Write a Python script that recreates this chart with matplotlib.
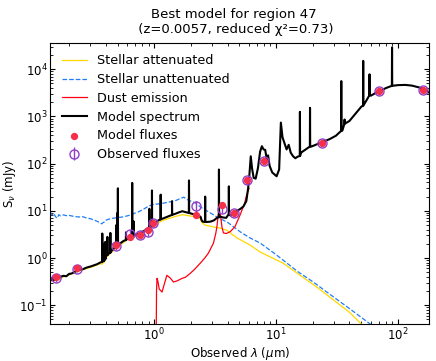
import matplotlib
matplotlib.use('Agg')
import matplotlib.pyplot as plt

# model spectrum continuum (um, mJy)
spec_wl = [0.14, 0.145, 0.15, 0.155, 0.16, 0.17, 0.18, 0.19, 0.20, 0.21, 0.22, 0.24,
           0.26, 0.28, 0.30, 0.32, 0.34, 0.36, 0.37, 0.39, 0.40, 0.41, 0.43, 0.45,
           0.48, 0.52, 0.56, 0.60, 0.65, 0.70, 0.75, 0.80, 0.85, 0.90, 0.95, 1.0,
           1.05, 1.1, 1.2, 1.3, 1.4, 1.5, 1.6, 1.7, 1.8, 1.9, 2.0, 2.1, 2.2, 2.3,
           2.4, 2.45, 2.5, 2.7, 2.9, 3.1, 3.25, 3.5, 3.7, 3.9, 4.2, 4.5, 4.8, 5.1,
           5.4, 5.7, 5.9, 6.05, 6.2, 6.35, 6.55, 6.8, 7.1, 7.4, 7.65, 7.9, 8.15,
           8.4, 8.6, 8.85, 9.3, 9.8, 10.1, 10.6, 10.95, 11.3, 11.8, 12.2, 12.7,
           13.2, 13.8, 14.4, 15.0, 16.0, 17.5, 19.5, 21.5, 24, 27.5, 31, 33.5, 35,
           40, 45, 50, 55, 60, 65, 71, 80, 90, 100, 115, 130, 150, 165, 180]
spec_fl = [0.33, 0.36, 0.34, 0.37, 0.35, 0.40, 0.42, 0.41, 0.46, 0.47, 0.50, 0.56,
           0.58, 0.63, 0.66, 0.70, 0.74, 0.80, 0.82, 0.88, 1.1, 1.15, 1.3, 1.45,
           1.7, 2.0, 2.3, 2.6, 2.9, 3.1, 3.3, 3.6, 3.9, 4.3, 4.8, 5.4,
           6.0, 6.4, 7.0, 7.6, 8.2, 8.7, 9.3, 9.8, 9.4, 9.0, 8.8, 8.5, 8.2, 7.8,
           7.5, 6.3, 5.9, 5.8, 5.9, 6.3, 7.0, 7.5, 7.2, 7.1, 8.0, 9.0, 10.0, 11.0,
           12.4, 16, 30, 60, 143, 80, 50, 48, 80, 180, 234, 200, 195,
           120, 150, 90, 65, 58, 54, 75, 740, 360, 260, 200, 250,
           170, 143, 130, 140, 170, 200, 230, 255, 285, 330, 390, 470, 500,
           800, 1150, 1600, 2150, 2750, 3100, 3450, 4000, 4450, 4600, 4650, 4500, 4100, 3700, 3200]

# narrow emission lines: position, continuum below, peak
line_wl = [0.375, 0.385, 0.397, 0.413, 0.437, 0.489, 0.4987, 0.5036, 0.587, 0.660,
           0.677, 0.912, 0.959, 1.13, 1.40, 1.93, 2.62, 3.40, 4.10,
           15.7, 19.0, 34.3, 36.5, 51.9, 58.5, 89.5]
line_base = [0.83, 0.87, 0.95, 1.15, 1.3, 1.75, 1.8, 1.85, 2.4, 2.85,
             2.95, 4.3, 4.7, 6.6, 8.2, 9.0, 5.8, 7.4, 8.5,
             145, 230, 490, 700, 1700, 2800, 4450]
line_peak = [3.3, 2.0, 2.2, 2.8, 3.4, 5.0, 9.0, 30, 3.5, 39,
             6.0, 11, 27, 22, 16, 44, 20, 75, 33,
             1250, 1520, 5600, 860, 15000, 7800, 29000]

# stellar attenuated
att_wl = [0.14, 0.16, 0.18, 0.2, 0.24, 0.28, 0.32, 0.36, 0.37, 0.39, 0.40, 0.45,
          0.5, 0.6, 0.7, 0.8, 0.9, 1.0, 1.1, 1.2, 1.35, 1.5, 1.7, 1.9, 2.1,
          2.38, 2.45, 2.6, 3.0, 3.5, 4.0, 4.4, 4.8, 5.0, 6.1, 7.4, 11.4, 21.7,
          30, 40, 51.6, 60]
att_fl = [0.32, 0.34, 0.40, 0.44, 0.53, 0.60, 0.67, 0.76, 0.74, 0.82, 1.0, 1.35,
          1.7, 2.45, 2.9, 3.4, 4.0, 4.9, 5.7, 6.4, 7.0, 7.6, 8.3, 7.9, 7.6,
          7.0, 5.8, 5.0, 4.6, 4.3, 3.8, 3.1, 2.66, 2.5, 1.89, 1.34, 0.78, 0.24,
          0.126, 0.071, 0.037, 0.027]

# stellar unattenuated
unatt_wl = [0.14, 0.145, 0.15, 0.155, 0.16, 0.165, 0.17, 0.18, 0.19, 0.2, 0.22,
            0.24, 0.26, 0.28, 0.30, 0.32, 0.34, 0.36, 0.37, 0.38, 0.39, 0.40, 0.42,
            0.45, 0.5, 0.55, 0.6, 0.65, 0.7, 0.75, 0.8, 0.85, 0.9, 0.95, 1.0, 1.1,
            1.2, 1.35, 1.5, 1.65, 1.75, 1.85, 2.0, 2.17, 2.4, 2.62, 3.28, 4.04,
            5.07, 6.1, 7.4, 10, 15, 20, 30, 40, 57, 65]
unatt_fl = [9.5, 8.2, 8.8, 7.5, 7.0, 8.3, 7.8, 8.2, 7.9, 8.0, 7.6,
            7.4, 7.5, 7.0, 6.8, 6.4, 6.0, 5.6, 5.3, 5.6, 5.8, 6.3, 6.6,
            6.9, 7.2, 7.4, 7.8, 8.3, 9.0, 9.6, 10.5, 11.5, 12.5, 13.3, 13.8, 14.0,
            14.6, 15.5, 16.5, 18.3, 19.5, 17.5, 16.0, 14.8, 12.0, 10.5, 7.4, 5.6,
            3.6, 2.67, 2.08, 1.18, 0.52, 0.315, 0.146, 0.085, 0.043, 0.033]

# dust emission
dust_wl = [1.03, 1.045, 1.055, 1.07, 1.1, 1.16, 1.22, 1.27, 1.35, 1.44, 1.55, 1.69,
           1.8, 1.97, 2.15, 2.38, 2.6, 2.78, 3.06, 3.2, 3.27, 3.35, 3.42, 3.5, 3.6,
           3.7, 3.9, 4.2, 4.6, 5.07, 5.5, 5.75, 6.0]
dust_fl = [0.001, 0.2, 0.37, 0.33, 0.22, 0.19, 0.3, 0.43, 0.38, 0.31, 0.33, 0.37,
           0.39, 0.47, 0.58, 0.77, 1.0, 1.26, 2.05, 3.3, 4.6, 8.0, 10.0, 8.0, 4.5,
           3.4, 3.3, 3.6, 4.6, 8.2, 14, 22, 30]

# photometry
filt_wl = [0.155, 0.232, 0.49, 0.63, 0.77, 0.89, 0.98, 2.2, 3.6, 4.5, 5.8, 8.0,
           24, 70, 160]
mod_flux = [0.39, 0.60, 1.85, 2.75, 3.1, 3.9, 5.5, 8.2, 13.4, 9.0, 44, 115,
            280, 3400, 3700]
obs_flux = [0.37, 0.59, 1.8, 3.3, 3.1, 3.5, 5.4, 12.6, 11.0, 9.0, 44, 115,
            280, 3400, 3700]
obs_err = [0.02, 0.03, 0.1, 0.2, 0.15, 0.2, 0.3, 1.2, 0.6, 0.5, 2.5, 6,
           15, 180, 200]

# put the emission lines into the continuum
pts = list(zip(spec_wl, spec_fl))
for w, b, p in zip(line_wl, line_base, line_peak):
    pts += [(w * 0.997, b), (w, p), (w * 1.003, b)]
pts.sort()
model_wl = [p[0] for p in pts]
model_fl = [p[1] for p in pts]

plt.rcParams['font.size'] = 8.5
fig = plt.figure(figsize=(4.36, 3.61), dpi=100)
ax = fig.add_axes([0.115, 0.1025, 0.869, 0.7785])

ax.plot(att_wl, att_fl, color='gold', lw=0.9, label='Stellar attenuated')
ax.plot(unatt_wl, unatt_fl, color='#1f7ef5', lw=0.9, ls='--', label='Stellar unattenuated')
ax.plot(dust_wl, dust_fl, color='#ff0010', lw=0.9, label='Dust emission')
ax.plot(model_wl, model_fl, color='k', lw=1.5, label='Model spectrum')
ax.scatter(filt_wl, mod_flux, marker='o', color='#f5304a', s=18, zorder=3,
           label='Model fluxes')
ax.errorbar(filt_wl, obs_flux, yerr=[3 * e for e in obs_err], ls='', marker='o',
            markerfacecolor='none', markersize=6.5, markeredgecolor='#9040c8',
            ecolor='#9040c8', capsize=0, elinewidth=1, label='Observed fluxes')

ax.set_xscale('log')
ax.set_yscale('log')
ax.set_xlim(0.14, 180)
ax.set_ylim(0.04, 3.6e4)
ax.tick_params(which='both', direction='in', top=True, right=True, pad=2)
ax.set_xlabel(r'Observed $\lambda$ ($\mu$m)', labelpad=1)
ax.set_ylabel(r'S$_\nu$ (mJy)', labelpad=1)
ax.set_title('Best model for region 47\n (z=0.0057, reduced \u03c7\u00b2=0.73)',
             fontsize=9.5, pad=7, x=0.485)
ax.legend(loc='upper left', frameon=False, fontsize=9.2, labelspacing=0.45,
          borderaxespad=0.5)

fig.savefig('out.png', dpi=100)
